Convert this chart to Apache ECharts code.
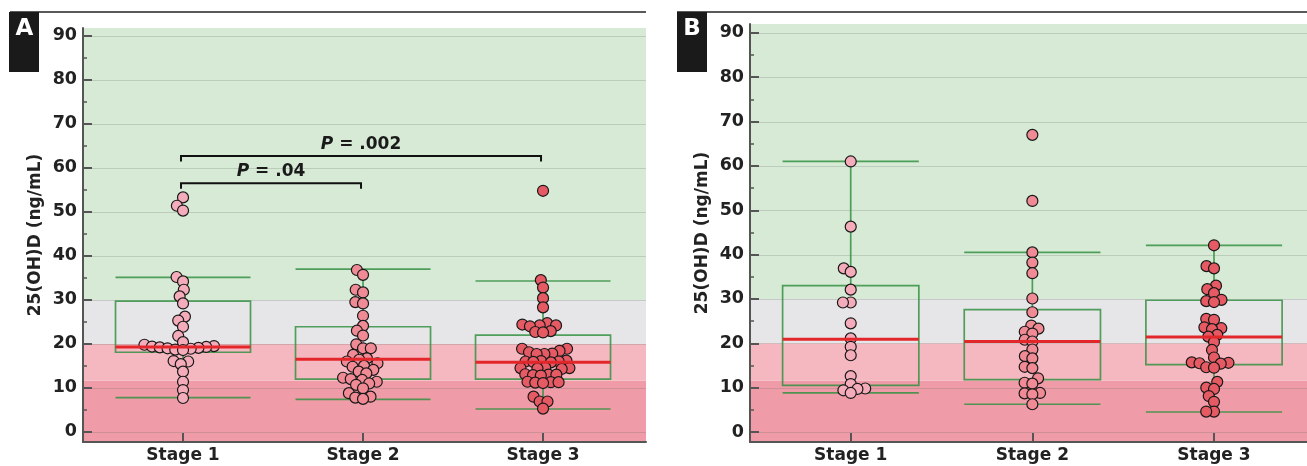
<!DOCTYPE html>
<html>
<head>
<meta charset="utf-8">
<script src="https://cdn.jsdelivr.net/npm/echarts@6/dist/echarts.min.js"></script>
<style>
html,body{margin:0;padding:0;background:#fff;}
#chart{width:1307px;height:466px;}
</style>
</head>
<body>
<div id="chart"></div>
<script>
// ---------- data ----------
const categories = ['Stage 1', 'Stage 2', 'Stage 3'];
const yTicks = [0, 10, 20, 30, 40, 50, 60, 70, 80, 90];
const yMinorTicks = [5, 15, 25, 35, 45, 55, 65, 75, 85];
const bandLimits = [11.6, 20, 30];
const yAxisName = '25(OH)D (ng/mL)';

// Panel A individual values (ng/mL)
const a1 = [53.3, 51.4, 50.3, 35.2, 34.2, 32.3, 30.8, 29.2, 26.2, 25.3, 23.9, 21.8, 20.4,
  19.8, 19.5, 19.4, 19.3, 19.2, 19.1, 19.0, 18.9, 18.7, 18.6, 16.1, 16.0, 15.4, 13.7, 11.4, 9.5, 7.7];
const a2 = [36.8, 35.7, 32.3, 31.7, 29.5, 29.2, 26.4, 24.1, 23.0, 21.9,
  19.9, 19.0, 19.0, 17.5, 16.7, 16.4, 16.0, 15.6, 15.0, 14.8, 14.1, 13.7, 13.3, 12.3, 12.0,
  11.8, 11.4, 11.0, 10.7, 9.9, 8.8, 8.0, 7.8, 7.5];
const a3 = [54.8, 34.5, 32.8, 30.4, 28.3, 24.7, 24.4, 24.2, 24.2, 24.0, 22.9, 22.7, 22.6,
  18.9, 18.9, 18.4, 18.1, 17.8, 17.7, 17.7, 16.2, 16.1, 16.0, 16.0, 15.9, 15.8,
  14.6, 14.5, 14.5, 14.4, 14.3, 13.1, 13.0, 13.0, 12.9, 12.8, 11.4, 11.3, 11.3, 11.2, 11.1,
  8.0, 6.9, 6.9, 5.3];
// Panel B individual values (ng/mL)
const b1 = [61.0, 46.3, 36.9, 36.1, 32.1, 29.2, 29.2, 24.5, 21.1, 19.2, 17.3, 12.6, 10.8, 9.8, 9.7, 9.4, 8.8];
const b2 = [67.0, 52.1, 40.5, 38.2, 35.8, 30.1, 27.0, 24.0, 23.3, 22.6, 22.2, 20.8, 20.4, 18.6,
  17.1, 16.6, 14.7, 14.4, 12.1, 11.1, 10.9, 8.8, 8.7, 8.5, 6.25];
const b3 = [42.1, 37.4, 36.9, 33.0, 32.2, 31.3, 29.8, 29.5, 29.3, 25.5, 25.3, 23.6, 23.4, 23.2,
  21.9, 21.5, 20.3, 18.5, 16.8, 15.7, 15.6, 15.5, 15.4, 14.6, 14.5, 11.3, 10.0, 9.7, 8.1, 6.8, 4.6, 4.6];

// Box statistics [whisker low, Q1, median, Q3, whisker high]
const boxA = [[7.8, 18.1, 19.3, 29.7, 35.1], [7.4, 12.0, 16.5, 23.9, 37.0], [5.2, 12.0, 15.8, 22.0, 34.3]];
const boxB = [[8.8, 10.5, 20.9, 33.0, 61.0], [6.25, 11.8, 20.4, 27.6, 40.5], [4.5, 15.2, 21.4, 29.7, 42.1]];

// Significance brackets (panel A)
const bracketFrom = [1, 1];
const bracketTo = [2, 3];
const bracketY = [56.5, 62.7];
const bracketP = ['.04', '.002'];

// ---------- styles ----------
const FONT = 'DejaVu Sans';
const bandColors = ['#f09ca8', '#f6b8c0', '#e6e6e8', '#d6ead5'];
const pointColors = ['#f4acbb', '#f08a95', '#e65a64'];
const boxGreen = 'rgba(52,145,66,0.85)';
const medianRed = '#e3262a';
const axisGrey = '#555';
const textCol = '#222';

const yRangeA = [-2.3, 91.8];
const yRangeB = [-2.26, 92.0];

function beeswarm(ys, d) {
  const n = ys.length;
  const order = ys.map((y, i) => i).sort((a, b) => ys[b] - ys[a]);
  const xs = new Array(n).fill(0);
  const placed = [];
  for (const i of order) {
    const y = ys[i];
    const cands = [0];
    for (const j of placed) {
      const dy = Math.abs(ys[j] - y);
      if (dy < d) {
        const dx = Math.sqrt(d * d - dy * dy);
        cands.push(xs[j] + dx, xs[j] - dx);
      }
    }
    cands.sort((a, b) => Math.abs(a) - Math.abs(b) || a - b);
    let chosen = 0;
    for (const c of cands) {
      let ok = true;
      for (const j of placed) {
        const dx = c - xs[j], dy = ys[j] - y;
        if (dx * dx + dy * dy < d * d - 1e-6) { ok = false; break; }
      }
      if (ok) { chosen = c; break; }
    }
    xs[i] = chosen;
    placed.push(i);
  }
  return xs;
}

function mkX(g, min, max) {
  return {
    type: 'value', gridIndex: g, min, max, z: 10,
    axisLine: { show: true, onZero: false, lineStyle: { color: axisGrey, width: 2 } },
    axisTick: { show: true, inside: true, length: 9, customValues: [1, 2, 3], lineStyle: { color: axisGrey, width: 2 } },
    axisLabel: {
      customValues: [1, 2, 3], margin: 5,
      formatter: v => categories[Math.round(v) - 1] || '',
      fontFamily: FONT, fontWeight: 'bold', fontSize: 17, color: textCol
    },
    splitLine: { show: false }
  };
}
function mkY(g, r) {
  return {
    type: 'value', gridIndex: g, min: r[0], max: r[1], position: 'left', z: 10,
    axisLine: { show: true, onZero: false, lineStyle: { color: axisGrey, width: 2 } },
    axisTick: { show: true, inside: true, length: 9, customValues: yTicks, lineStyle: { color: axisGrey, width: 2 } },
    axisLabel: { customValues: yTicks, margin: 6, fontFamily: FONT, fontWeight: 'bold', fontSize: 17.5, color: textCol },
    splitLine: { show: false },
    name: yAxisName, nameLocation: 'middle', nameGap: 39,
    nameTextStyle: { fontFamily: FONT, fontWeight: 'bold', fontSize: 17, color: textCol }
  };
}
function mkYMinor(g, r) {
  return {
    type: 'value', gridIndex: g, min: r[0], max: r[1], position: 'left', offset: 0, z: 10,
    axisLine: { show: false },
    axisTick: { show: true, inside: true, length: 4, customValues: yMinorTicks, lineStyle: { color: axisGrey, width: 1.5 } },
    axisLabel: { show: false },
    splitLine: { show: false }
  };
}

function bandSeries(xi, yi, r) {
  const edges = [r[0], ...bandLimits, r[1]];
  const data = bandColors.map((c, i) => [edges[i], edges[i + 1], i]);
  return {
    type: 'custom', xAxisIndex: xi, yAxisIndex: yi, z: 1, silent: true, data,
    encode: { x: -1, y: [0, 1] },
    renderItem: (params, api) => {
      const cs = params.coordSys;
      const yTop = api.coord([1, api.value(1)])[1];
      const yBot = api.coord([1, api.value(0)])[1];
      return { type: 'rect', shape: { x: cs.x, y: yTop, width: cs.width, height: yBot - yTop },
        style: { fill: bandColors[api.value(2)] } };
    }
  };
}
function gridSeries(xi, yi) {
  return {
    type: 'custom', xAxisIndex: xi, yAxisIndex: yi, z: 2, silent: true,
    data: yTicks.map(v => [1, v]),
    renderItem: (params, api) => {
      const cs = params.coordSys;
      const y = Math.round(api.coord([1, api.value(1)])[1]) + 0.5;
      return { type: 'line', shape: { x1: cs.x, y1: y, x2: cs.x + cs.width, y2: y },
        style: { stroke: 'rgba(100,110,100,0.24)', lineWidth: 1 } };
    }
  };
}
function boxSeries(xi, yi, stats) {
  return {
    type: 'custom', xAxisIndex: xi, yAxisIndex: yi, z: 3, silent: true,
    data: stats.map((s, i) => [i + 1, ...s]),
    encode: { x: 0, y: [1, 5] },
    renderItem: (params, api) => {
      const x = api.value(0);
      const lo = api.coord([x, api.value(1)]);
      const q1 = api.coord([x, api.value(2)]);
      const q3 = api.coord([x, api.value(4)]);
      const hi = api.coord([x, api.value(5)]);
      const hw = api.size([0.75, 0])[0] / 2;
      const cx = lo[0];
      const st = { stroke: boxGreen, lineWidth: 1.7, fill: null };
      return { type: 'group', children: [
        { type: 'line', shape: { x1: cx, y1: hi[1], x2: cx, y2: q3[1] }, style: st },
        { type: 'line', shape: { x1: cx, y1: q1[1], x2: cx, y2: lo[1] }, style: st },
        { type: 'line', shape: { x1: cx - hw, y1: hi[1], x2: cx + hw, y2: hi[1] }, style: st },
        { type: 'line', shape: { x1: cx - hw, y1: lo[1], x2: cx + hw, y2: lo[1] }, style: st },
        { type: 'rect', shape: { x: cx - hw, y: q3[1], width: 2 * hw, height: q1[1] - q3[1] }, style: st }
      ] };
    }
  };
}
function medianSeries(xi, yi, stats) {
  return {
    type: 'custom', xAxisIndex: xi, yAxisIndex: yi, z: 5, silent: true,
    data: stats.map((s, i) => [i + 1, s[2]]),
    renderItem: (params, api) => {
      const p = api.coord([api.value(0), api.value(1)]);
      const hw = api.size([0.75, 0])[0] / 2;
      return { type: 'line', shape: { x1: p[0] - hw, y1: p[1], x2: p[0] + hw, y2: p[1] },
        style: { stroke: medianRed, lineWidth: 3 } };
    }
  };
}
function pointSeries(xi, yi, cat, values, color) {
  let cache = null;
  return {
    type: 'custom', xAxisIndex: xi, yAxisIndex: yi, z: 4, silent: true,
    data: values.map(v => [cat, v]),
    renderItem: (params, api) => {
      const pts = values.map(v => api.coord([cat, v]));
      if (!cache || params.dataIndex === 0) cache = beeswarm(pts.map(p => p[1]), 7.8);
      const i = params.dataIndex;
      return { type: 'circle', shape: { cx: pts[i][0] + cache[i], cy: pts[i][1], r: 5.5 },
        style: { fill: color, stroke: '#181818', lineWidth: 1.2 } };
    }
  };
}
function bracketSeries(xi, yi) {
  return {
    type: 'custom', xAxisIndex: xi, yAxisIndex: yi, z: 6, silent: true,
    data: bracketY.map((y, i) => [bracketFrom[i], bracketTo[i], y, i]),
    encode: { x: [0, 1], y: 2 },
    renderItem: (params, api) => {
      const a = api.coord([api.value(0), api.value(2)]);
      const b = api.coord([api.value(1), api.value(2)]);
      const x1 = a[0] - 2, x2 = b[0] - 2, y = a[1];
      const idx = api.value(3);
      return { type: 'group', children: [
        { type: 'polyline', shape: { points: [[x1, y + 5.5], [x1, y], [x2, y], [x2, y + 5.5]] },
          style: { stroke: '#111', lineWidth: 2, fill: null } },
        { type: 'text', x: (x1 + x2) / 2, y: y - 3,
          style: {
            text: '{i|P} = ' + bracketP[idx],
            align: 'center', verticalAlign: 'bottom',
            fontFamily: FONT, fontWeight: 'bold', fontSize: 17, fill: '#1a1a1a',
            rich: { i: { fontStyle: 'italic', fontFamily: FONT, fontWeight: 'bold', fontSize: 17, fill: '#1a1a1a' } }
          } }
      ] };
    }
  };
}

const option = {
  animation: false,
  grid: [
    { left: 83, top: 28, width: 563, height: 414 },
    { left: 750, top: 24, width: 557, height: 418 }
  ],
  xAxis: [mkX(0, 0.4444, 3.572), mkX(1, 0.4455, 3.512)],
  yAxis: [mkY(0, yRangeA), mkYMinor(0, yRangeA), mkY(1, yRangeB), mkYMinor(1, yRangeB)],
  graphic: [
    { type: 'line', shape: { x1: 10, y1: 12, x2: 646, y2: 12 }, style: { stroke: '#222', lineWidth: 1.5 } },
    { type: 'line', shape: { x1: 677, y1: 12, x2: 1307, y2: 12 }, style: { stroke: '#222', lineWidth: 1.5 } },
    { type: 'rect', shape: { x: 9, y: 12, width: 30, height: 60 }, style: { fill: '#1a1a1a' } },
    { type: 'rect', shape: { x: 677, y: 12, width: 30, height: 60 }, style: { fill: '#1a1a1a' } },
    { type: 'text', x: 24.5, y: 29, style: { text: 'A', align: 'center', verticalAlign: 'middle', fill: '#fff', fontFamily: FONT, fontWeight: 'bold', fontSize: 23 } },
    { type: 'text', x: 692, y: 29, style: { text: 'B', align: 'center', verticalAlign: 'middle', fill: '#fff', fontFamily: FONT, fontWeight: 'bold', fontSize: 23 } }
  ],
  series: [
    bandSeries(0, 0, yRangeA), gridSeries(0, 0), boxSeries(0, 0, boxA),
    pointSeries(0, 0, 1, a1, pointColors[0]), pointSeries(0, 0, 2, a2, pointColors[1]), pointSeries(0, 0, 3, a3, pointColors[2]),
    medianSeries(0, 0, boxA), bracketSeries(0, 0),
    bandSeries(1, 2, yRangeB), gridSeries(1, 2), boxSeries(1, 2, boxB),
    pointSeries(1, 2, 1, b1, pointColors[0]), pointSeries(1, 2, 2, b2, pointColors[1]), pointSeries(1, 2, 3, b3, pointColors[2]),
    medianSeries(1, 2, boxB)
  ]
};
const chart = echarts.init(document.getElementById('chart'), null, { renderer: 'canvas' });
chart.setOption(option);
</script>
</body>
</html>
